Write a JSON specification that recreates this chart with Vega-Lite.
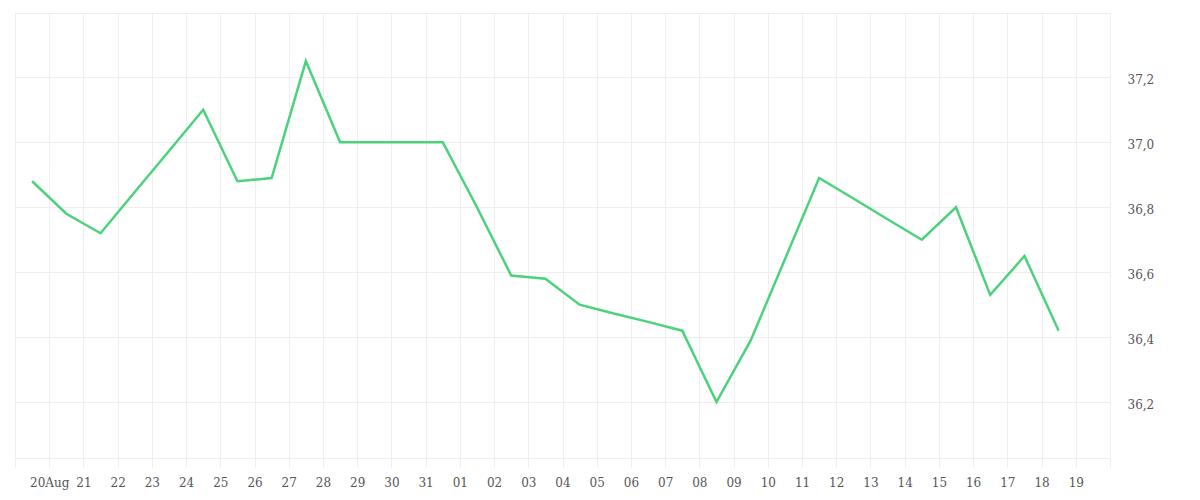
{
  "$schema": "https://vega.github.io/schema/vega-lite/v6.json",
  "width": 1095,
  "height": 445,
  "autosize": {"type": "none"},
  "padding": {"left": 15, "top": 13, "right": 90, "bottom": 42},
  "background": "#ffffff",
  "config": {
    "view": {"stroke": "#eeeeee", "strokeWidth": 1},
    "axis": {
      "labelFont": "DejaVu Serif",
      "labelFontSize": 12,
      "labelColor": "#555555",
      "gridColor": "#eeeeee",
      "gridWidth": 1,
      "domain": false,
      "title": null
    }
  },
  "data": {
    "values": [
      {"date": "2020-08-19T12:00:00Z", "value": 36.88},
      {"date": "2020-08-20T12:00:00Z", "value": 36.78},
      {"date": "2020-08-21T12:00:00Z", "value": 36.72},
      {"date": "2020-08-22T12:00:00Z", "value": 36.847},
      {"date": "2020-08-23T12:00:00Z", "value": 36.973},
      {"date": "2020-08-24T12:00:00Z", "value": 37.10},
      {"date": "2020-08-25T12:00:00Z", "value": 36.88},
      {"date": "2020-08-26T12:00:00Z", "value": 36.89},
      {"date": "2020-08-27T12:00:00Z", "value": 37.25},
      {"date": "2020-08-28T12:00:00Z", "value": 37.00},
      {"date": "2020-08-29T12:00:00Z", "value": 37.00},
      {"date": "2020-08-30T12:00:00Z", "value": 37.00},
      {"date": "2020-08-31T12:00:00Z", "value": 37.00},
      {"date": "2020-09-01T12:00:00Z", "value": 36.80},
      {"date": "2020-09-02T12:00:00Z", "value": 36.59},
      {"date": "2020-09-03T12:00:00Z", "value": 36.58},
      {"date": "2020-09-04T12:00:00Z", "value": 36.50},
      {"date": "2020-09-05T12:00:00Z", "value": 36.473},
      {"date": "2020-09-06T12:00:00Z", "value": 36.447},
      {"date": "2020-09-07T12:00:00Z", "value": 36.42},
      {"date": "2020-09-08T12:00:00Z", "value": 36.20},
      {"date": "2020-09-09T12:00:00Z", "value": 36.39},
      {"date": "2020-09-10T12:00:00Z", "value": 36.64},
      {"date": "2020-09-11T12:00:00Z", "value": 36.89},
      {"date": "2020-09-12T12:00:00Z", "value": 36.827},
      {"date": "2020-09-13T12:00:00Z", "value": 36.763},
      {"date": "2020-09-14T12:00:00Z", "value": 36.70},
      {"date": "2020-09-15T12:00:00Z", "value": 36.80},
      {"date": "2020-09-16T12:00:00Z", "value": 36.53},
      {"date": "2020-09-17T12:00:00Z", "value": 36.65},
      {"date": "2020-09-18T12:00:00Z", "value": 36.42}
    ]
  },
  "mark": {"type": "line", "color": "#4cd27c", "strokeWidth": 2.5},
  "encoding": {
    "x": {
      "field": "date",
      "type": "temporal",
      "scale": {
        "type": "utc",
        "domain": [
          {"year": 2020, "month": 8, "date": 19, "utc": true},
          {"year": 2020, "month": 9, "date": 20, "utc": true}
        ]
      },
      "axis": {
        "tickCount": {"interval": "day", "step": 1},
        "tickColor": "#eeeeee",
        "tickSize": 9,
        "labelPadding": 10,
        "labelAngle": 0,
        "labelOverlap": false,
        "labelFlush": false,
        "labelExpr": "(utcmonth(datum.value) == 7 && utcdate(datum.value) == 19) || (utcmonth(datum.value) == 8 && utcdate(datum.value) == 20) ? '' : (utcmonth(datum.value) == 7 && utcdate(datum.value) == 20 ? '20Aug' : utcFormat(datum.value, '%d'))"
      }
    },
    "y": {
      "field": "value",
      "type": "quantitative",
      "scale": {"domain": [36.028, 37.398], "nice": false, "zero": false},
      "axis": {
        "orient": "right",
        "values": [36.2, 36.4, 36.6, 36.8, 37.0, 37.2],
        "ticks": false,
        "labelPadding": 17,
        "labelOffset": 2,
        "labelExpr": "replace(format(datum.value, '.1f'), '.', ',')"
      }
    }
  }
}
